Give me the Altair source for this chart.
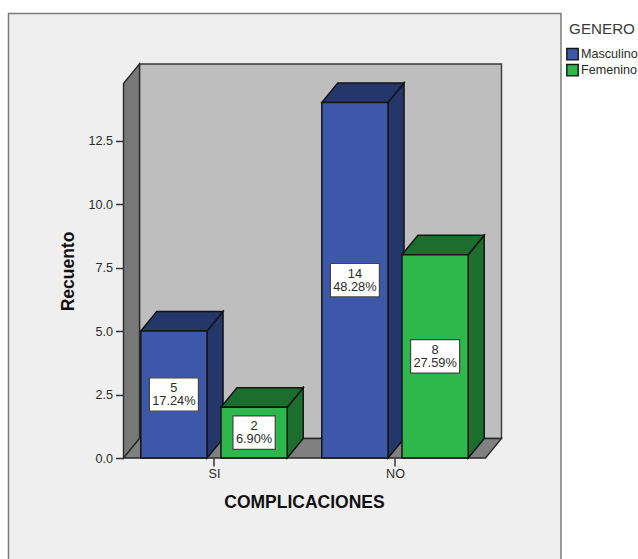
import altair as alt
import pandas as pd

# Chart values
categories = ["SI", "NO"]
genders = ["Masculino", "Femenino"]
counts_masculino = [5, 14]
counts_femenino = [2, 8]
percent_masculino = ["17.24%", "48.28%"]
percent_femenino = ["6.90%", "27.59%"]
y_ticks = [0, 2.5, 5, 7.5, 10, 12.5]

# Colours of the faces
front = {"Masculino": "#3E58A9", "Femenino": "#2EB84C"}
shade = {"Masculino": "#25366B", "Femenino": "#1C6E2E"}
EDGE = "#141414"
FONT = "Liberation Sans"
INK = "#2b2b2b"

# Layout in scale units (one unit on x is the distance between categories)
X_MIN, X_MAX = -0.5, 1.5
DEPTH_X = 0.0884
DEPTH_Y = 0.768
Y_TOP = 15.512
BAR_HALF = 0.183
BAR_SHIFT = 0.2215
BOX_HALF_H = 0.657

rows = []
for g, vals, pcts, sign in [
    ("Masculino", counts_masculino, percent_masculino, -1),
    ("Femenino", counts_femenino, percent_femenino, 1),
]:
    for i, (cat, v, p) in enumerate(zip(categories, vals, pcts)):
        c = i + sign * BAR_SHIFT
        half = 0.0185 * len(p) + 0.0244
        rows.append(dict(genero=g, cat=cat, bar=f"{g}-{cat}", value=v, pct=p, label=str(v),
                         x0=c - BAR_HALF, x1=c + BAR_HALF, xc=c,
                         ym=v / 2, y0=0.0,
                         bx0=c - half, bx1=c + half,
                         by0=v / 2 - BOX_HALF_H, by1=v / 2 + BOX_HALF_H))
bars = pd.DataFrame(rows)


def q(field, **kw):
    return alt.X(field, type="quantitative", scale=x_scale, axis=None, **kw)


x_scale = alt.Scale(domain=[X_MIN, X_MAX + DEPTH_X], nice=False, zero=False)
y_scale = alt.Scale(domain=[0, Y_TOP], nice=False, zero=False)


def yq(field):
    return alt.Y(field, type="quantitative", scale=y_scale, axis=None)


# Outer panel around the plot
panel = alt.Chart(pd.DataFrame({"a": [0]})).mark_rect(
    fill="#EFEFEF", stroke="#7c7c7c", strokeWidth=1.5
).encode(x=alt.value(-115), x2=alt.value(437.5), y=alt.value(-50.5), y2=alt.value(530))

# Back wall, left wall and floor of the box
back = alt.Chart(pd.DataFrame({"x": [X_MIN + DEPTH_X], "x2": [X_MAX + DEPTH_X],
                               "y": [DEPTH_Y], "y2": [Y_TOP]})).mark_rect(
    fill="#BEBEBE", stroke="#3a3a3a", strokeWidth=1.4
).encode(x=q("x"), x2="x2", y=yq("y"), y2="y2")

wall_left = alt.Chart(pd.DataFrame({
    "x": [X_MIN, X_MIN + DEPTH_X], "lo": [0, DEPTH_Y], "hi": [Y_TOP - DEPTH_Y, Y_TOP]
})).mark_area(orient="vertical", fill="#787878", stroke="#2a2a2a", strokeWidth=1.4, opacity=1).encode(
    x=q("x"), y=yq("lo"), y2="hi"
)

floor = alt.Chart(pd.DataFrame({
    "y": [0, DEPTH_Y], "lo": [X_MIN, X_MIN + DEPTH_X], "hi": [X_MAX, X_MAX + DEPTH_X]
})).mark_area(orient="horizontal", fill="#808080", stroke="#2a2a2a", strokeWidth=1.4, opacity=1).encode(
    y=yq("y"), x=q("lo"), x2="hi"
)


def side_rows(d):
    out = []
    for r in d.to_dict("records"):
        out.append(dict(bar=r["bar"], x=r["x1"], lo=0.0, hi=r["value"]))
        out.append(dict(bar=r["bar"], x=r["x1"] + DEPTH_X, lo=DEPTH_Y, hi=r["value"] + DEPTH_Y))
    return pd.DataFrame(out)


def top_rows(d):
    out = []
    for r in d.to_dict("records"):
        out.append(dict(bar=r["bar"], y=r["value"], lo=r["x0"], hi=r["x1"]))
        out.append(dict(bar=r["bar"], y=r["value"] + DEPTH_Y, lo=r["x0"] + DEPTH_X, hi=r["x1"] + DEPTH_X))
    return pd.DataFrame(out)


color = alt.Color(
    "genero:N",
    scale=alt.Scale(domain=genders, range=[front[g] for g in genders]),
    legend=alt.Legend(
        title="GENERO", orient="none", legendX=442.5, legendY=-42,
        titleFont=FONT, titleFontSize=15.2, titleFontWeight="normal", titleColor="#3a3a3a",
        titlePadding=9, titleAnchor="middle",
        labelFont=FONT, labelFontSize=12.6, labelColor=INK, labelOffset=2, labelLimit=120,
        symbolType="square", symbolSize=130, symbolStrokeColor=EDGE, symbolStrokeWidth=1.4,
        symbolOpacity=1, rowPadding=0, clipHeight=16, padding=0,
    ),
)

layers = [panel, back, wall_left, floor]
edge = dict(stroke=EDGE, strokeWidth=1.5, opacity=1)
for g in genders:
    d = bars[bars.genero == g]
    layers.append(alt.Chart(side_rows(d)).mark_area(orient="vertical", fill=shade[g], **edge).encode(
        x=q("x"), y=yq("lo"), y2="hi", detail="bar:N"))
    layers.append(alt.Chart(top_rows(d)).mark_area(orient="horizontal", fill=shade[g], **edge).encode(
        y=yq("y"), x=q("lo"), x2="hi", detail="bar:N"))
    layers.append(alt.Chart(d).mark_rect(**edge).encode(
        x=q("x0"), x2="x1", y=yq("y0"), y2="value", fill=color))

# Value boxes
layers.append(alt.Chart(bars).mark_rect(fill="white", stroke="#444444", strokeWidth=1.2).encode(
    x=q("bx0"), x2="bx1", y=yq("by0"), y2="by1"))
text_style = dict(font=FONT, fontSize=12.8, color=INK, baseline="middle", align="center")
layers.append(alt.Chart(bars).mark_text(dy=-6.7, **text_style).encode(x=q("xc"), y=yq("ym"), text="label:N"))
layers.append(alt.Chart(bars).mark_text(dy=6.7, **text_style).encode(x=q("xc"), y=yq("ym"), text="pct:N"))

# Axes drawn above the panel (zindex keeps them in front of the marks)
axes = alt.Chart(pd.DataFrame({"x": [0.0], "y": [0.0]})).mark_point(opacity=0).encode(
    x=alt.X("x:Q", scale=x_scale, axis=alt.Axis(
        title="COMPLICACIONES", values=[0, 1], grid=False, domain=False, zindex=1,
        labelExpr=f"{categories}[datum.value]",
        tickColor="#333333", tickWidth=1.5, tickSize=8,
        labelFont=FONT, labelFontSize=12.6, labelColor=INK, labelPadding=1,
        titleFont=FONT, titleFontSize=17.5, titleFontWeight="bold", titleColor="#111111",
        titleX=180.5, titleY=35, titleAnchor="middle")),
    y=alt.Y("y:Q", scale=y_scale, axis=alt.Axis(
        title="Recuento", values=y_ticks, format=".1f", grid=False, domain=False, zindex=1,
        tickColor="#333333", tickWidth=1.5, tickSize=8,
        labelFont=FONT, labelFontSize=12.6, labelColor=INK, labelPadding=3,
        titleFont=FONT, titleFontSize=17.5, titleFontWeight="bold", titleColor="#111111",
        titleX=-46, titleY=207, titleAnchor="middle")),
)
layers.append(axes)

chart = alt.layer(*layers).resolve_axis(x="independent", y="independent").properties(
    width=378, height=394,
    padding={"left": 123.5, "top": 64, "right": 136.5, "bottom": 101},
    autosize=alt.AutoSizeParams(type="none"),
    background="white",
).configure_view(stroke=None)

chart.save("out.html", embed_options={"renderer": "svg", "actions": False})
